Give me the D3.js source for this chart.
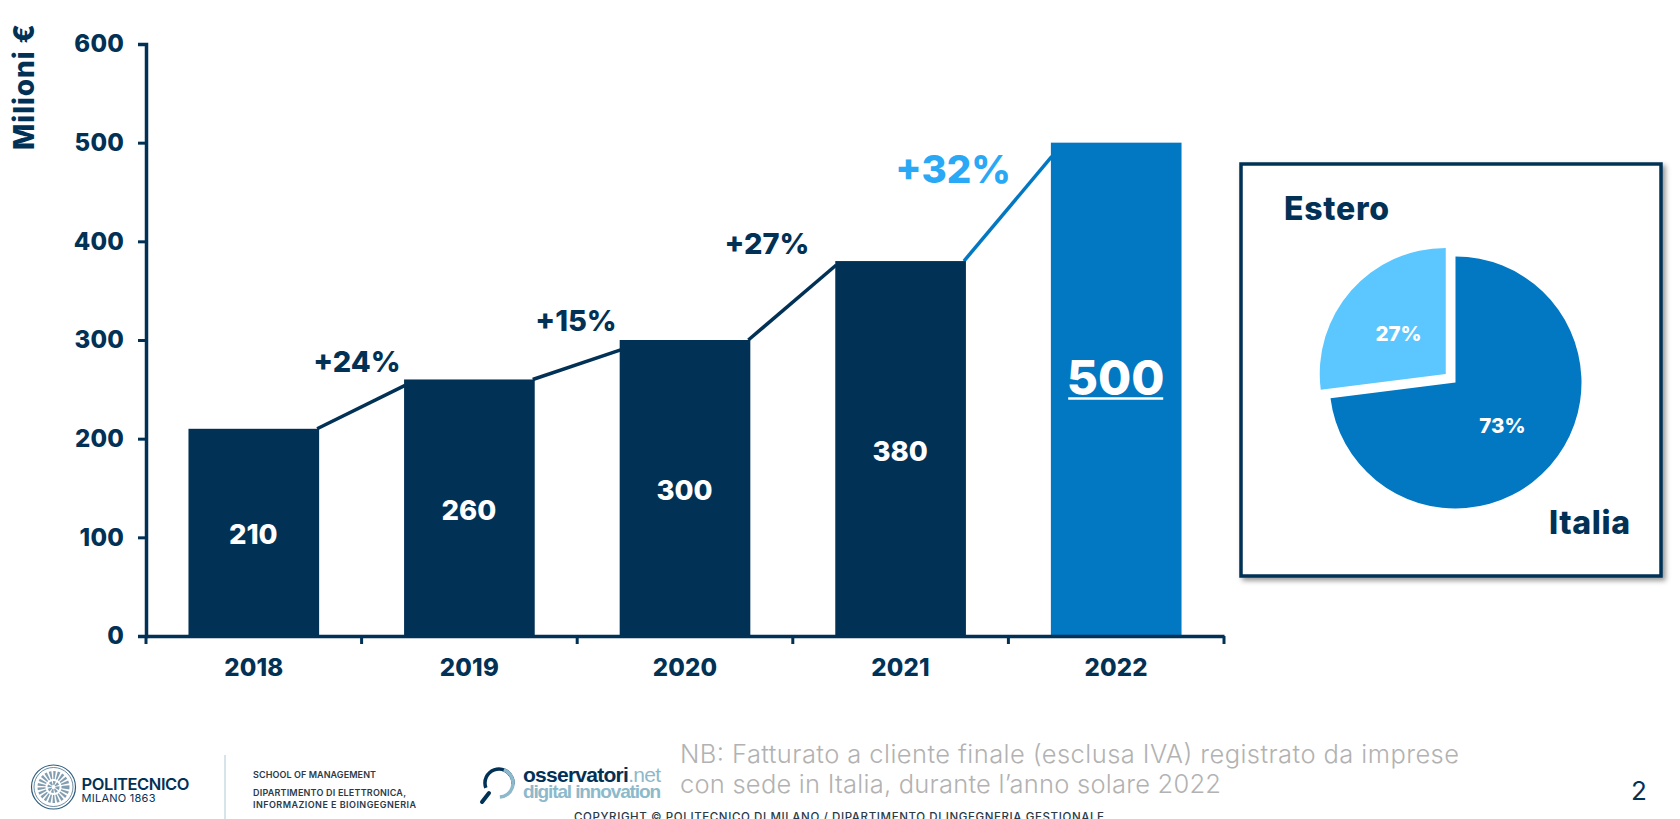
<!DOCTYPE html>
<html><head><meta charset="utf-8">
<script src="https://cdn.jsdelivr.net/npm/d3@7"></script>
<style>
html,body{margin:0;padding:0;background:#fff;overflow:hidden}
svg{display:block}
text{font-family:Inter,"Noto Sans",sans-serif}
</style></head><body>
<script>
const years=["2018","2019","2020","2021","2022"];
const revenue=[210,260,300,380,500];
const growth=["+24%","+15%","+27%","+32%"];
const connectorEnd=[254,290,376,486];
const yTicks=[0,100,200,300,400,500,600];
const pieLabels=["Italia","Estero"];
const pieShares=[73,27];

const DARK="#023156",BLUE="#0277c2",SKY="#5cc6ff",ACC="#29a9f5";
const W=1680,H=819;
const svg=d3.select("body").append("svg").attr("width",W).attr("height",H);
const defs=svg.append("defs");
const f=defs.append("filter").attr("id","sh").attr("x","-5%").attr("y","-5%").attr("width","112%").attr("height","112%");
f.append("feDropShadow").attr("dx",3).attr("dy",3).attr("stdDeviation",2.5).attr("flood-color","#000").attr("flood-opacity",.4);

const x=d3.scaleBand().domain(years).range([146,1224]).paddingInner(.394).paddingOuter(.197);
const y=d3.scaleLinear().domain([0,600]).range([636,44]);

// connectors (under the bars)
svg.append("g").selectAll("line").data(growth).join("line")
 .attr("x1",(d,i)=>x(years[i])+x.bandwidth()-2).attr("y1",(d,i)=>y(revenue[i]))
 .attr("x2",(d,i)=>x(years[i+1])+1).attr("y2",(d,i)=>y(connectorEnd[i]))
 .attr("stroke",(d,i)=>i===3?BLUE:DARK).attr("stroke-width",3.5);

// bars
svg.append("g").selectAll("rect").data(years).join("rect")
 .attr("x",d=>x(d)).attr("width",x.bandwidth())
 .attr("y",(d,i)=>y(revenue[i])).attr("height",(d,i)=>y(0)-y(revenue[i]))
 .attr("fill",(d,i)=>i===4?BLUE:DARK);

// axes
const gy=svg.append("g").attr("transform","translate(146,0)")
 .call(d3.axisLeft(y).tickValues(yTicks).tickSize(8).tickPadding(14));
const gx=svg.append("g").attr("transform","translate(0,636)")
 .call(d3.axisBottom(x).tickSize(0).tickPadding(23));
gx.selectAll("line.sep").data(d3.range(years.length+1)).join("line").attr("class","sep")
 .attr("x1",i=>146+i*x.step()).attr("x2",i=>146+i*x.step()).attr("y1",0).attr("y2",8)
 .attr("stroke",DARK).attr("stroke-width",3);
[gy,gx].forEach(g=>{
 g.selectAll("path.domain").attr("stroke",DARK).attr("stroke-width",3.5);
 g.selectAll(".tick line").attr("stroke",DARK).attr("stroke-width",3);
 g.selectAll("text").attr("fill",DARK).style("font-size","24px").style("font-weight",800).style("letter-spacing","0.2px");
});
gx.selectAll(".tick text").attr("dy","0.71em");

svg.append("text").attr("transform","translate(34,150) rotate(-90)")
 .attr("fill",DARK).style("font-size","28px").style("font-weight",800).attr("textLength",126).text("Milioni €");

// value labels
svg.append("g").selectAll("text").data(years).join("text")
 .attr("x",d=>x(d)+x.bandwidth()/2-0.5)
 .attr("y",(d,i)=>i===4?395:(y(revenue[i])+y(0))/2+12)
 .attr("text-anchor","middle").attr("fill","#fff")
 .style("font-weight",800)
 .style("font-size",(d,i)=>i===4?"48px":"27.5px")
 .text((d,i)=>revenue[i]);
const last=years[years.length-1];
svg.append("line")
 .attr("x1",x(last)+x.bandwidth()/2-48).attr("x2",x(last)+x.bandwidth()/2+47)
 .attr("y1",398.5).attr("y2",398.5).attr("stroke","#fff").attr("stroke-width",2.5);

// growth labels
const gPos=[[357,372],[576,331],[767,254],[953,183]];
svg.append("g").selectAll("text").data(growth).join("text")
 .attr("x",(d,i)=>gPos[i][0]).attr("y",(d,i)=>gPos[i][1])
 .attr("text-anchor","middle").attr("fill",(d,i)=>i===3?ACC:DARK)
 .style("font-weight",800).style("font-size",(d,i)=>i===3?"38.5px":"29px").text(d=>d);

// pie box
svg.append("rect").attr("x",1241).attr("y",164).attr("width",420).attr("height",412)
 .attr("fill","#fff").attr("stroke",DARK).attr("stroke-width",3.5).attr("filter","url(#sh)");
const pie=d3.pie().sort(null)(pieShares);
const arc=d3.arc().innerRadius(0).outerRadius(126);
const pg=svg.append("g").attr("transform","translate(1455.5,382.5)");
pg.selectAll("path").data(pie).join("path")
 .attr("d",arc).attr("fill",(d,i)=>i===0?BLUE:SKY)
 .attr("transform",(d,i)=>{
   if(i===0) return null;
   const m=(d.startAngle+d.endAngle)/2;
   return `translate(${Math.sin(m)*13},${-Math.cos(m)*13})`;
 });
const pctPos=[[47,43],[-57,-49]];
pg.selectAll("text").data(pie).join("text")
 .attr("x",(d,i)=>pctPos[i][0]).attr("y",(d,i)=>pctPos[i][1]+7.5)
 .attr("text-anchor","middle").attr("fill","#fff").style("font-weight",800).style("font-size","20.5px")
 .text(d=>d.data+"%");
const labPos=[[1549,534],[1284,220]];
const labLen=[81,105];
svg.append("g").selectAll("text").data(pieLabels).join("text")
 .attr("x",(d,i)=>labPos[i][0]).attr("y",(d,i)=>labPos[i][1])
 .attr("textLength",(d,i)=>labLen[i])
 .attr("fill",DARK).style("font-weight",800).style("font-size","32px").text(d=>d);

// footer
const ft=svg.append("g");
function t(s,xx,yy,size,weight,col,fam,len){
 const e=ft.append("text").attr("x",xx).attr("y",yy).attr("fill",col)
  .style("font-size",size+"px").style("font-weight",weight).text(s);
 if(fam)e.style("font-family",fam);
 if(len)e.attr("textLength",len);
 return e;
}
const seal=ft.append("g").attr("transform","translate(53.5,787)").attr("fill","none").attr("stroke","#2f5c7c");
seal.append("circle").attr("r",22).attr("stroke-width",1.2);
seal.append("circle").attr("r",19.5).attr("stroke-width",.7);
seal.append("circle").attr("r",12).attr("stroke-width",8).attr("stroke-dasharray","2 1.5").attr("opacity",.6);
seal.append("circle").attr("r",4).attr("stroke-width",4).attr("stroke-dasharray","2 1").attr("opacity",.6);
t("POLITECNICO",81.5,790,16.5,600,DARK,null,108);
t("MILANO 1863",81.5,802,11,400,DARK,null,74);
ft.append("line").attr("x1",225).attr("x2",225).attr("y1",755).attr("y2",819).attr("stroke","#bcd2e0").attr("stroke-width",1.2);
t("SCHOOL OF MANAGEMENT",253,778,9,600,"#2a3a48",null,123);
t("DIPARTIMENTO DI ELETTRONICA,",253,796,9,600,"#2a3a48",null,153);
t("INFORMAZIONE E BIOINGEGNERIA",253,808,9,600,"#2a3a48",null,163);
const mg=ft.append("g").attr("transform","translate(499,783)").attr("fill","none");
mg.append("circle").attr("r",14).attr("stroke",DARK).attr("stroke-width",3.5).attr("stroke-dasharray","50 38").attr("transform","rotate(-200)");
mg.append("circle").attr("r",14).attr("stroke","#8cb9cb").attr("stroke-width",3.5).attr("stroke-dasharray","38 50").attr("transform","rotate(-70)");
mg.append("line").attr("x1",-10).attr("y1",10).attr("x2",-17).attr("y2",19).attr("stroke",DARK).attr("stroke-width",4).attr("stroke-linecap","round");
const sans="'Liberation Sans',Arial,sans-serif";
const o=t("osservatori",523,782,21,700,DARK,sans);
o.append("tspan").attr("fill","#8cb9cb").style("font-weight",400).text(".net");
o.attr("textLength",138);
t("digital innovation",523,798,19,700,"#8cb9cb",sans,138);
t("NB: Fatturato a cliente finale (esclusa IVA) registrato da imprese",680,763,25.5,300,"#b2b2b2",null,779);
t("con sede in Italia, durante l’anno solare 2022",680,793,25.5,300,"#b2b2b2",null,541);
t("2",1631,800,26,400,DARK);
t("COPYRIGHT © POLITECNICO DI MILANO / DIPARTIMENTO DI INGEGNERIA GESTIONALE",574,821,11.5,500,"#2a3a48",null,530);
</script>
</body></html>
